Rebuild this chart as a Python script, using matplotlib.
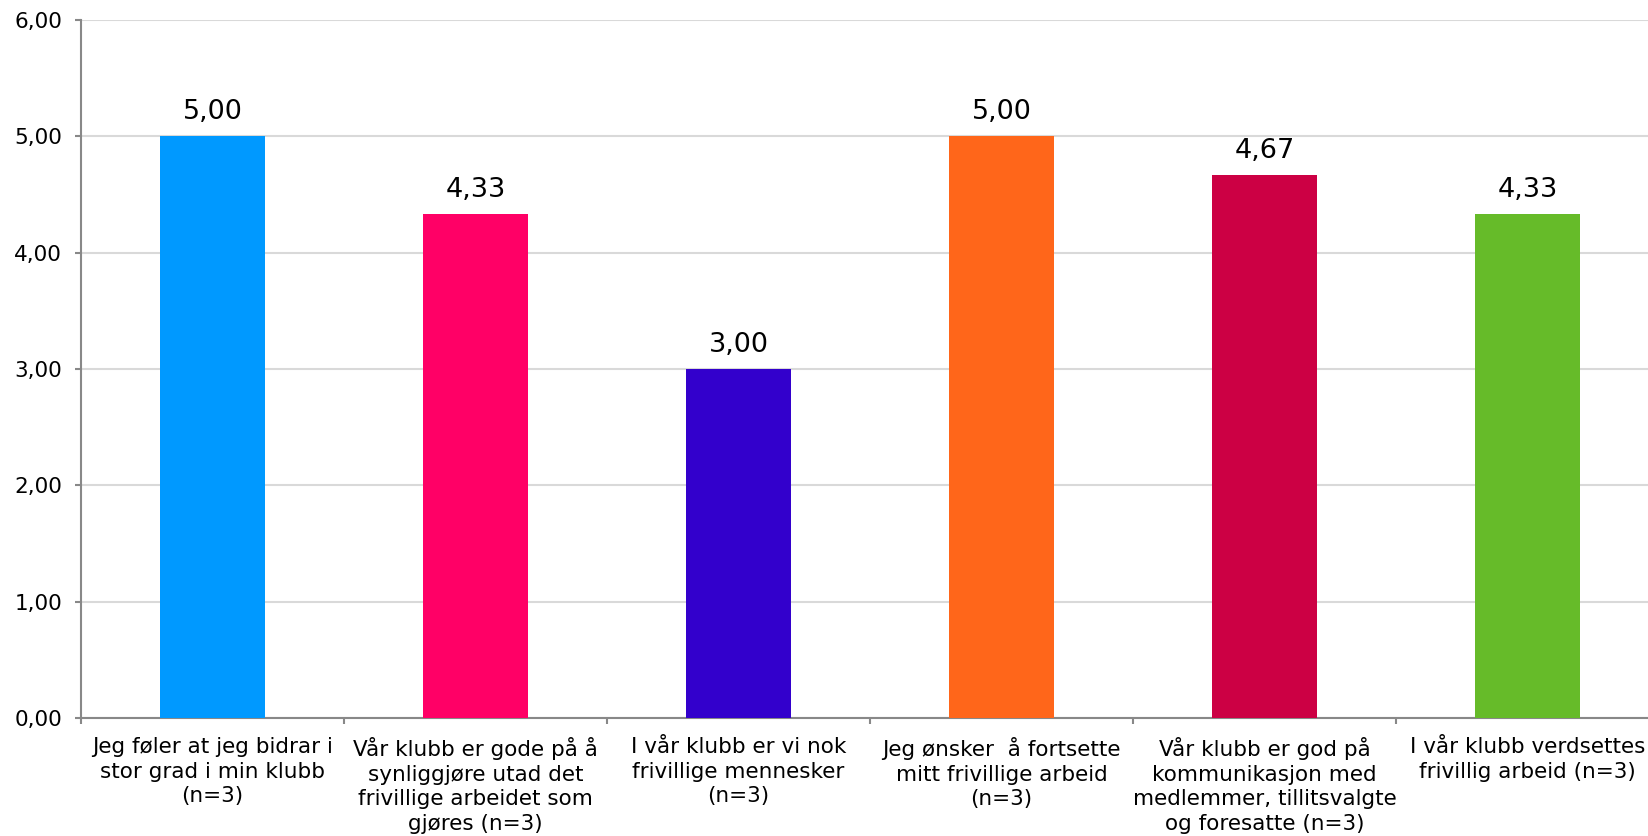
import matplotlib.pyplot as plt

# Categories (statements) and average scores
labels = [
    "Jeg føler at jeg bidrar i\nstor grad i min klubb\n(n=3)",
    "Vår klubb er gode på å\nsynliggjøre utad det\nfrivillige arbeidet som\ngjøres (n=3)",
    "I vår klubb er vi nok\nfrivillige mennesker\n(n=3)",
    "Jeg ønsker  å fortsette\nmitt frivillige arbeid\n(n=3)",
    "Vår klubb er god på\nkommunikasjon med\nmedlemmer, tillitsvalgte\nog foresatte (n=3)",
    "I vår klubb verdsettes\nfrivillig arbeid (n=3)",
]
values = [5.00, 4.33, 3.00, 5.00, 4.67, 4.33]
colors = ["#0099FF", "#FF0066", "#3300CC", "#FF661A", "#CC0044", "#66BB29"]

plt.rcParams['font.family'] = ['DejaVu Sans']

fig = plt.figure(figsize=(16.48, 8.36), dpi=100)
# plot area runs slightly past the right edge, like the original
ax = fig.add_axes([81 / 1648, 1 - 718 / 836, 6 * 263 / 1648, (718 - 20) / 836])

x = list(range(len(values)))
bars = ax.bar(x, values, width=0.4, color=colors, zorder=3)

for xi, v in zip(x, values):
    ax.annotate(f"{v:.2f}".replace(".", ","), (xi, v), xytext=(0, 8),
                textcoords="offset points", ha="center", va="bottom",
                fontsize=19.5, color="black")

ax.set_xlim(-0.5, 5.5)
ax.set_ylim(0, 6)
ax.set_yticks([0, 1, 2, 3, 4, 5, 6])
ax.set_yticklabels([f"{t:.2f}".replace(".", ",") for t in range(7)], fontsize=15.5)
ax.yaxis.grid(True, color="#D9D9D9", linewidth=1.5, zorder=0)
ax.set_axisbelow(True)

# ticks at category boundaries, labels at centres
ax.set_xticks([i - 0.5 for i in range(len(values) + 1)])
ax.set_xticklabels([])
ax.set_xticks(x, minor=True)
ax.set_xticklabels(labels, minor=True, fontsize=15.5, linespacing=1.28)
ax.tick_params(axis="x", which="minor", length=0, pad=14)
ax.tick_params(axis="x", which="major", length=4.5, width=1.5, color="#888888")
ax.tick_params(axis="y", length=4.5, width=1.5, color="#888888", pad=9)

for s in ["top", "right"]:
    ax.spines[s].set_visible(False)
for s in ["left", "bottom"]:
    ax.spines[s].set_color("#888888")
    ax.spines[s].set_linewidth(1.5)

fig.savefig("out.png", dpi=100)
